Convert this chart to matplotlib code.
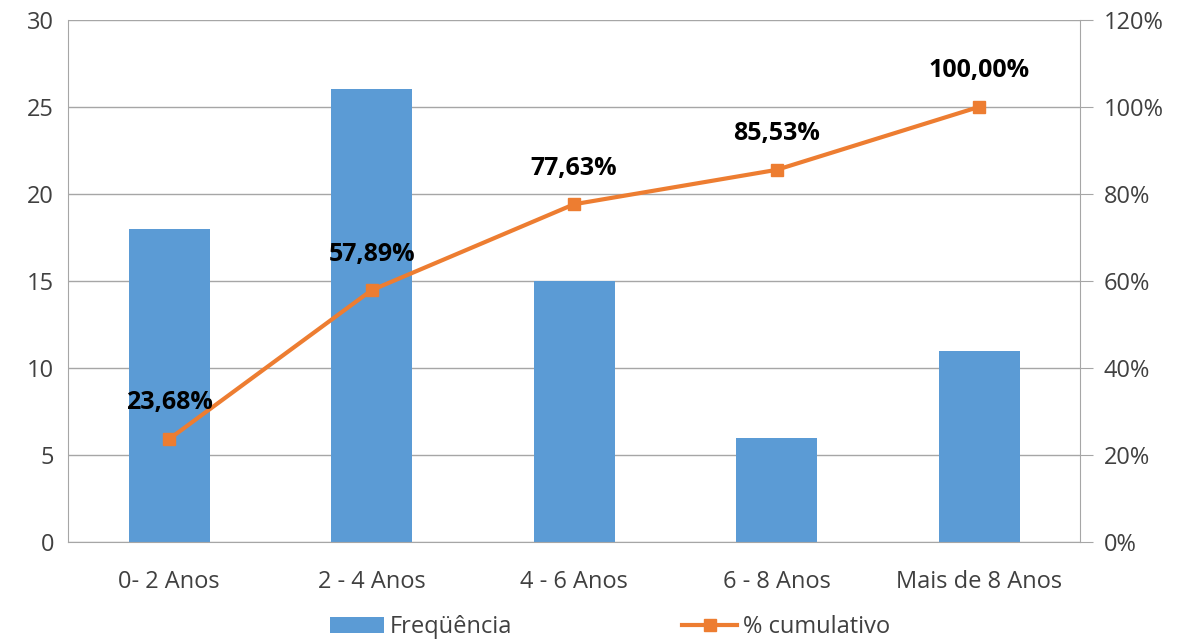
import matplotlib.pyplot as plt

categorias = ["0- 2 Anos", "2 - 4 Anos", "4 - 6 Anos", "6 - 8 Anos", "Mais de 8 Anos"]
frequencia = [18, 26, 15, 6, 11]
cumulativo = [23.68, 57.89, 77.63, 85.53, 100.00]
rotulos = ["23,68%", "57,89%", "77,63%", "85,53%", "100,00%"]

plt.rcParams['font.family'] = ['Open Sans', 'DejaVu Sans']

azul = '#5B9BD5'
laranja = '#ED7D31'
cinza = '#A6A6A6'

fig = plt.figure(figsize=(11.84, 6.4), dpi=100)
ax = fig.add_axes([0.0574, 0.153, 0.855, 0.816])
x = list(range(len(categorias)))

ax.bar(x, frequencia, width=0.4, color=azul, zorder=2, label='Freqüência')
ax.set_xlim(-0.5, len(categorias) - 0.5)
ax.set_ylim(0, 30)
ax.set_yticks(range(0, 31, 5))
ax.set_xticks(x)
ax.set_xticklabels(categorias)
ax.grid(axis='y', color=cinza, linewidth=1, zorder=0)
for s in ['top', 'right']:
    ax.spines[s].set_visible(False)
for s in ['left', 'bottom']:
    ax.spines[s].set_color(cinza)
ax.tick_params(axis='y', length=0, labelsize=17, colors='#404040', pad=10)
ax.tick_params(axis='x', length=0, labelsize=17, colors='#404040', pad=20)

ax2 = ax.twinx()
ax2.plot(x, cumulativo, color=laranja, linewidth=3, marker='s', markersize=9,
         zorder=3, label='% cumulativo')
ax2.set_ylim(0, 120)
ax2.set_yticks(range(0, 121, 20))
ax2.set_yticklabels([f"{v}%" for v in range(0, 121, 20)])
for s in ['top', 'left', 'bottom']:
    ax2.spines[s].set_visible(False)
ax2.spines['right'].set_color(cinza)
ax2.tick_params(axis='y', length=9, color=cinza, labelsize=17, labelcolor='#404040', pad=8)

for xi, yi, txt in zip(x, cumulativo, rotulos):
    ax2.annotate(txt, (xi, yi), xytext=(0, 26), textcoords='offset points',
                 ha='center', va='center', fontsize=18, fontweight='bold', color='black')

h1, l1 = ax.get_legend_handles_labels()
h2, l2 = ax2.get_legend_handles_labels()
fig.legend(h1 + h2, l1 + l2, loc='center', bbox_to_anchor=(0.515, 0.02), ncol=2,
           frameon=False, fontsize=17, columnspacing=7.2, handlelength=2.3,
           handletextpad=0.25, labelcolor='#404040')

fig.savefig('out.png', dpi=100)
